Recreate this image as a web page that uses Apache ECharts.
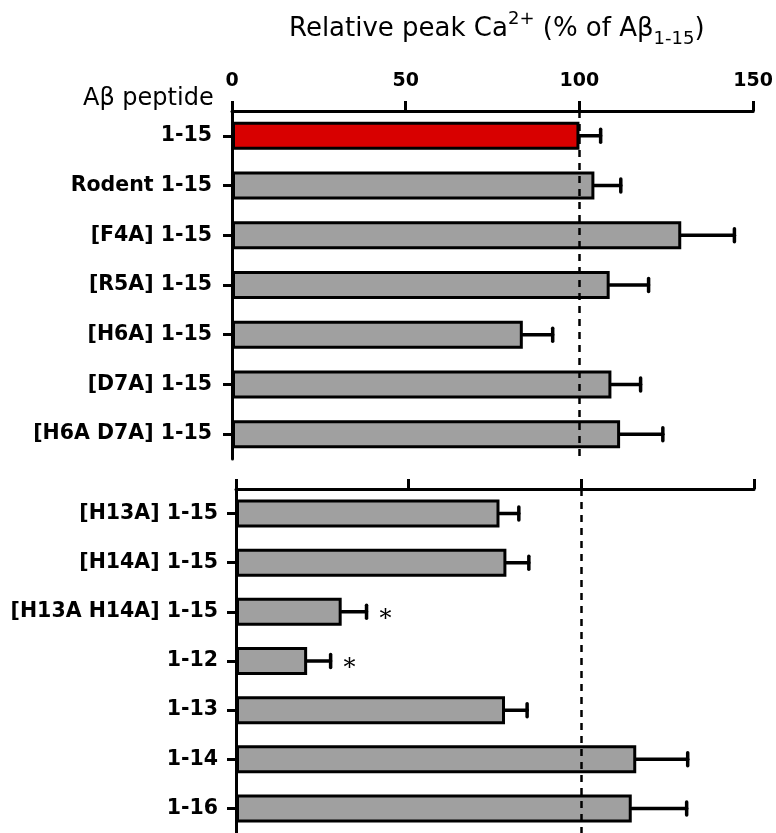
<!DOCTYPE html>
<html>
<head>
<meta charset="utf-8">
<script src="https://cdn.jsdelivr.net/npm/echarts@6/dist/echarts.min.js"></script>
<style>
  body { margin: 0; padding: 0; background: #fff; }
  #chart { width: 776px; height: 833px; }
</style>
</head>
<body>
<div id="chart"></div>
<script>
  // upper panel: 1-15 and its N-terminal variants
  var topLabels = ['1-15', 'Rodent 1-15', '[F4A] 1-15', '[R5A] 1-15', '[H6A] 1-15', '[D7A] 1-15', '[H6A D7A] 1-15'];
  var topMeans = [100, 104.3, 129.3, 108.7, 83.7, 109.2, 111.7];
  var topErr = [6.1, 7.6, 15.3, 11.2, 8.6, 8.4, 12.3];

  // lower panel: histidine mutants and truncations
  var bottomLabels = ['[H13A] 1-15', '[H14A] 1-15', '[H13A H14A] 1-15', '1-12', '1-13', '1-14', '1-16'];
  var bottomMeans = [76.3, 78.3, 30.6, 20.6, 77.9, 115.9, 114.6];
  var bottomErr = [5.6, 6.5, 7.2, 6.8, 6.4, 14.9, 15.9];
  var bottomSig = ['', '', '*', '*', '', '', ''];

  var refLine = 100;

  var font = 'DejaVu Sans';
  var chart = echarts.init(document.getElementById('chart'));

  function errData(means, errs) {
    var d = [];
    for (var i = 0; i < means.length; i++) {
      d.push([means[i], means[i] + errs[i], i]);
    }
    return d;
  }

  function errRender(sig) {
    return function (params, api) {
      var a = api.coord([api.value(0), api.value(2)]);
      var b = api.coord([api.value(1), api.value(2)]);
      var style = { stroke: '#000', lineWidth: 3.5, lineCap: 'round' };
      var children = [
        { type: 'line', shape: { x1: a[0], y1: a[1], x2: b[0], y2: b[1] }, style: style },
        { type: 'line', shape: { x1: b[0], y1: b[1] - 6.5, x2: b[0], y2: b[1] + 6.5 }, style: style }
      ];
      if (sig && sig[params.dataIndex]) {
        children.push({
          type: 'text',
          style: {
            text: sig[params.dataIndex], x: b[0] + 19, y: b[1] + 8,
            fill: '#000', font: '24px "DejaVu Serif"', textAlign: 'center', textVerticalAlign: 'middle'
          }
        });
      }
      return { type: 'group', children: children };
    };
  }

  function barData(means, first) {
    return means.map(function (v, i) {
      if (first && i === 0) return { value: v, itemStyle: { color: '#d80000' } };
      return v;
    });
  }

  var dashLine = {
    silent: true,
    symbol: 'none',
    label: { show: false },
    lineStyle: { color: '#000', type: [7, 6], width: 2.5 },
    data: [{ xAxis: refLine }]
  };

  var axisLine = { show: true, lineStyle: { color: '#000', width: 3 } };

  var option = {
    animation: false,
    title: [
      {
        text: '{n|Relative peak Ca}{sup|2+}{n| (% of Aβ}{sub|1-15}{n|)}',
        left: 284,
        top: 5,
        textStyle: {
          fontWeight: 'normal',
          rich: {
            n: { fontFamily: font, fontWeight: 'normal', fontSize: 26, color: '#000', lineHeight: 38, verticalAlign: 'middle' },
            sup: { fontFamily: font, fontWeight: 'normal', fontSize: 18, color: '#000', lineHeight: 18, verticalAlign: 'top' },
            sub: { fontFamily: font, fontWeight: 'normal', fontSize: 18, color: '#000', lineHeight: 18, verticalAlign: 'bottom' }
          }
        }
      },
      {
        text: 'Aβ peptide',
        left: 78,
        top: 82,
        textStyle: { fontFamily: font, fontSize: 24, fontWeight: 'normal', color: '#000' }
      }
    ],
    grid: [
      { left: 232, width: 522, top: 111, height: 348 },
      { left: 236, width: 518, top: 489, height: 345 }
    ],
    xAxis: [
      {
        gridIndex: 0, type: 'value', position: 'top', min: 0, max: 150, interval: 50,
        axisLine: axisLine,
        axisTick: { show: true, length: 10, lineStyle: { color: '#000', width: 3 } },
        axisLabel: { color: '#000', fontFamily: font, fontWeight: 'bold', fontSize: 19, margin: 20 },
        splitLine: { show: false }
      },
      {
        gridIndex: 1, type: 'value', position: 'top', min: 0, max: 150, interval: 50,
        axisLine: axisLine,
        axisTick: { show: true, length: 10, lineStyle: { color: '#000', width: 3 } },
        axisLabel: { show: false },
        splitLine: { show: false }
      }
    ],
    yAxis: [
      {
        gridIndex: 0, type: 'category', inverse: true, data: topLabels,
        axisLine: axisLine,
        axisTick: { show: true, alignWithLabel: true, length: 9, lineStyle: { color: '#000', width: 3 } },
        axisLabel: { color: '#000', fontFamily: font, fontWeight: 'bold', fontSize: 20.5, margin: 20 }
      },
      {
        gridIndex: 1, type: 'category', inverse: true, data: bottomLabels,
        axisLine: axisLine,
        axisTick: { show: true, alignWithLabel: true, length: 9, lineStyle: { color: '#000', width: 3 } },
        axisLabel: { color: '#000', fontFamily: font, fontWeight: 'bold', fontSize: 20.5, margin: 18 }
      }
    ],
    series: [
      {
        type: 'bar', xAxisIndex: 0, yAxisIndex: 0, barWidth: 28,
        data: barData(topMeans, true),
        itemStyle: { color: '#a0a0a0', borderColor: '#000', borderWidth: 3 },
        markLine: dashLine, z: 2
      },
      {
        type: 'custom', xAxisIndex: 0, yAxisIndex: 0,
        renderItem: errRender(null),
        encode: { x: [0, 1], y: 2 },
        data: errData(topMeans, topErr), z: 3
      },
      {
        type: 'bar', xAxisIndex: 1, yAxisIndex: 1, barWidth: 28,
        data: barData(bottomMeans, false),
        itemStyle: { color: '#a0a0a0', borderColor: '#000', borderWidth: 3 },
        markLine: dashLine, z: 2
      },
      {
        type: 'custom', xAxisIndex: 1, yAxisIndex: 1,
        renderItem: errRender(bottomSig),
        encode: { x: [0, 1], y: 2 },
        data: errData(bottomMeans, bottomErr), z: 3
      }
    ]
  };

  chart.setOption(option);
</script>
</body>
</html>
